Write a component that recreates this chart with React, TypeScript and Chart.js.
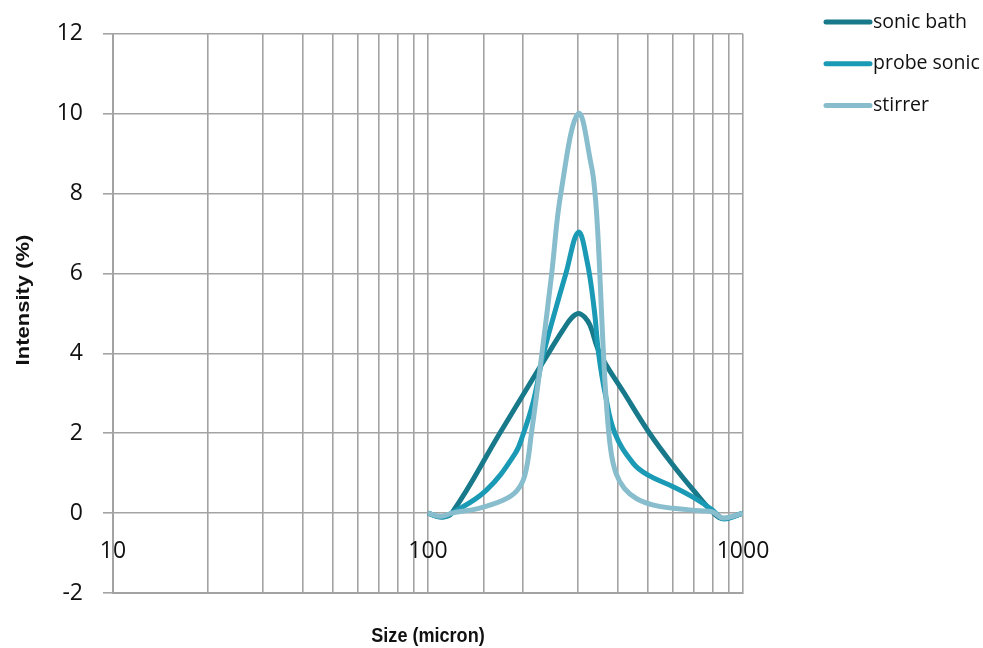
import React, { useEffect, useRef } from "react";
import { Chart, registerables } from "chart.js";

Chart.register(...registerables);

// ---- Data (size in micron, intensity in %) ----
const seriesNames = ["sonic bath", "probe sonic", "stirrer"];
const seriesColors = ["#17798A", "#1A9AB5", "#88BDCD"];

const sonicBathSize = [100, 110, 119, 169, 200, 241, 268, 285, 300, 315, 327, 351, 420, 505, 600, 700, 800, 865, 1000];
const sonicBathIntensity = [0, -0.1, 0, 2, 2.95, 4, 4.58, 4.88, 5, 4.9, 4.7, 4, 3.0, 2, 1.2, 0.55, 0.03, -0.14, 0];

const probeSonicSize = [100, 110, 119, 153, 189, 200, 216, 232, 252, 274, 300, 320, 337, 348, 365, 392, 449, 500, 600, 700, 800, 865, 1000];
const probeSonicIntensity = [0, -0.1, 0, 0.57, 1.49, 1.95, 2.8, 3.95, 5.0, 6, 7.03, 6.3, 5.1, 4, 3.0, 2, 1.24, 0.95, 0.66, 0.38, 0.08, -0.14, 0];

const stirrerSize = [100, 110, 119, 145, 173, 191, 203, 213, 230, 247, 264, 300, 330, 339, 346, 352, 359, 368, 380, 395, 420, 460, 520, 600, 730, 800, 865, 1000];
const stirrerIntensity = [0, -0.08, 0, 0.12, 0.32, 0.55, 0.95, 2.0, 4, 6, 8, 10, 8.7, 8, 7, 5.8, 4.3, 2.8, 1.6, 1.0, 0.62, 0.36, 0.2, 0.12, 0.06, 0.03, -0.12, 0];

const xTickLabels = [10, 100, 1000];
const xTitle = "Size (micron)";
const yTitle = "Intensity (%)";

const GRID = "#A3A3A3";
const TEXT = "#111111";
const TICK_FONT = '"Open Sans"';

function toPoints(xs: number[], ys: number[]) {
  return xs.map((x, i) => ({ x, y: ys[i] }));
}

export default function App() {
  const canvasRef = useRef<HTMLCanvasElement | null>(null);

  useEffect(() => {
    if (!canvasRef.current) return;
    const customPlugin = {
      id: "customText",
      afterDraw(chart: any) {
        const ctx = chart.ctx as CanvasRenderingContext2D;
        const xs = chart.scales.x;
        const ys = chart.scales.y;
        ctx.save();
        // x tick labels next to the zero line
        ctx.font = `23px ${TICK_FONT}`;
        ctx.fillStyle = TEXT;
        ctx.textAlign = "center";
        ctx.textBaseline = "middle";
        const yLab = ys.getPixelForValue(0) + 38;
        xTickLabels.forEach((v) => ctx.fillText(String(v), xs.getPixelForValue(v), yLab));
        // axis titles (slightly condensed)
        ctx.font = 'bold 21px "Liberation Sans"';
        ctx.save();
        ctx.translate((xs.left + xs.right) / 2, 636);
        ctx.scale(0.86, 1);
        ctx.fillText(xTitle, 0, 0);
        ctx.restore();
        ctx.font = 'bold 22px "Liberation Sans"';
        ctx.save();
        ctx.translate(24, 300);
        ctx.rotate(-Math.PI / 2);
        ctx.scale(1, 0.86);
        ctx.fillText(yTitle, 0, 0);
        ctx.restore();
        // legend
        ctx.font = `19.5px ${TICK_FONT}`;
        ctx.textAlign = "left";
        chart.data.datasets.forEach((ds: any, i: number) => {
          const ly = 22 + i * 41.7;
          ctx.strokeStyle = ds.borderColor;
          ctx.lineWidth = 5;
          ctx.lineCap = "round";
          ctx.beginPath();
          ctx.moveTo(826, ly);
          ctx.lineTo(870, ly);
          ctx.stroke();
          ctx.fillStyle = TEXT;
          ctx.fillText(ds.label, 873, ly);
        });
        ctx.restore();
      },
    };

    const mk = (i: number, xs: number[], ys: number[], order: number) => ({
      label: seriesNames[i],
      data: toPoints(xs, ys),
      borderColor: seriesColors[i],
      backgroundColor: seriesColors[i],
      borderWidth: 5,
      pointRadius: 0,
      showLine: true,
      fill: false,
      tension: 0.4,
      order,
    });

    const chart = new Chart(canvasRef.current, {
      type: "scatter",
      data: {
        datasets: [
          mk(0, sonicBathSize, sonicBathIntensity, 3),
          mk(1, probeSonicSize, probeSonicIntensity, 2),
          mk(2, stirrerSize, stirrerIntensity, 1),
        ],
      },
      options: {
        animation: false,
        responsive: false,
        layout: { padding: { top: 33, right: 240, bottom: 55, left: 0 } },
        plugins: { legend: { display: false }, tooltip: { enabled: false } },
        scales: {
          x: {
            type: "logarithmic",
            min: 10,
            max: 1000,
            ticks: { display: false },
            grid: { color: GRID, lineWidth: 1.6, drawTicks: false },
            border: { color: GRID, width: 2 },
            afterFit: (s: any) => {
              s.height = 0;
            },
          },
          y: {
            min: -2,
            max: 12,
            ticks: { stepSize: 2, font: { family: "Open Sans", size: 23 }, color: TEXT, padding: 20 },
            grid: { color: GRID, lineWidth: 1.6, tickLength: 10 },
            border: { color: GRID, width: 2 },
            afterFit: (s: any) => {
              s.width = 113;
            },
          },
        },
      },
      plugins: [customPlugin],
    });
    return () => chart.destroy();
  }, []);

  return (
    <div style={{ position: "fixed", left: 0, top: 0, width: 983, height: 648, background: "#fff" }}>
      <canvas ref={canvasRef} width={983} height={648} style={{ width: 983, height: 648 }} />
    </div>
  );
}
